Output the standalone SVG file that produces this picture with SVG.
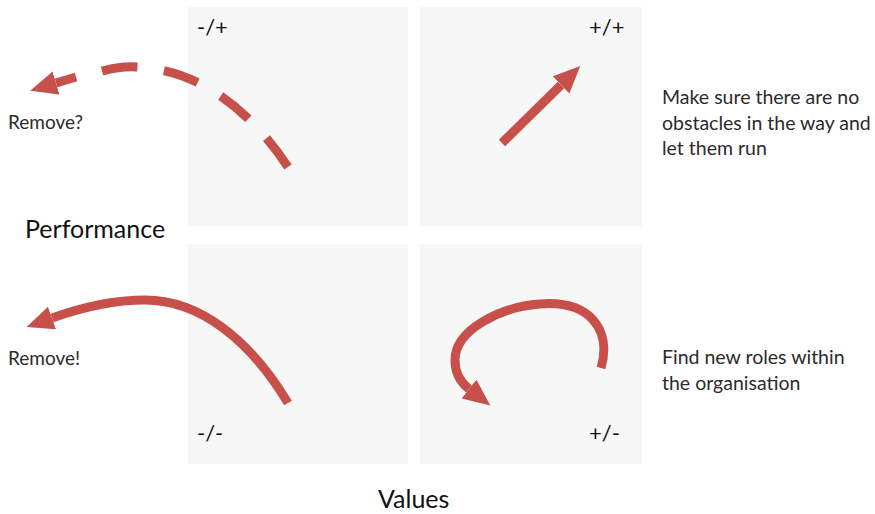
<svg xmlns="http://www.w3.org/2000/svg" width="875" height="514" viewBox="0 0 875 514">
<style>
.q{fill:#f7f7f7}
.t{font-family:Lato,"Open Sans","Liberation Sans",sans-serif;fill:#2b2b2b}
.s{font-size:22px;fill:#111}
.n{font-size:19px}
.d{font-size:19.5px}
.a{font-size:25px;fill:#111}
.arr{fill:none;stroke:#c8504b;stroke-width:9}
</style>
<defs>
<marker id="h" markerUnits="userSpaceOnUse" markerWidth="30" markerHeight="30" refX="0" refY="12" orient="auto">
<path d="M0,0 L27,12 L0,24 z" fill="#c8504b"/>
</marker>
</defs>
<rect width="875" height="514" fill="#fff"/>
<g id="q-minus-plus"><rect class="q" x="188" y="7" width="220" height="219"/><text class="t s" x="197" y="35">-/+</text></g>
<g id="q-plus-plus"><rect class="q" x="420" y="7" width="222" height="219"/><text class="t s" x="589" y="35">+/+</text></g>
<g id="q-minus-minus"><rect class="q" x="188" y="244" width="220" height="220"/><text class="t s" x="197" y="441">-/-</text></g>
<g id="q-plus-minus"><rect class="q" x="420" y="244" width="222" height="220"/><text class="t s" x="589" y="441">+/-</text></g>
<g id="labels">
<text class="t n" x="8" y="129">Remove?</text>
<text class="t n" x="8" y="365">Remove!</text>
<text class="t a" x="25" y="238">Performance</text>
<text class="t a" x="378" y="508">Values</text>
<text class="t d" x="662" y="104">Make sure there are no</text>
<text class="t d" x="662" y="130">obstacles in the way and</text>
<text class="t d" x="662" y="155">let them run</text>
<text class="t d" x="662" y="364">Find new roles within</text>
<text class="t d" x="662" y="390">the organisation</text>
</g>
<g id="connectors">
<path class="arr" d="M288,167 C250,110 200,70 137,67 C120,66 110,69 102,71" stroke-width="10" pathLength="218" stroke-dasharray="35,26"/>
<path class="arr" d="M76,77 L56,83" stroke-width="10" marker-end="url(#h)"/>
<path class="arr" d="M288,403 C250,340 200,300 145,300 C110,300 80,308 52,318" marker-end="url(#h)"/>
<path class="arr" d="M502,143 L561,85" marker-end="url(#h)"/>
<path class="arr" d="M601,368 C612,330 590,300 540,304 C500,307 455,330 455,360 C455,372 460,382 469,389" marker-end="url(#h)"/>
</g>
</svg>
